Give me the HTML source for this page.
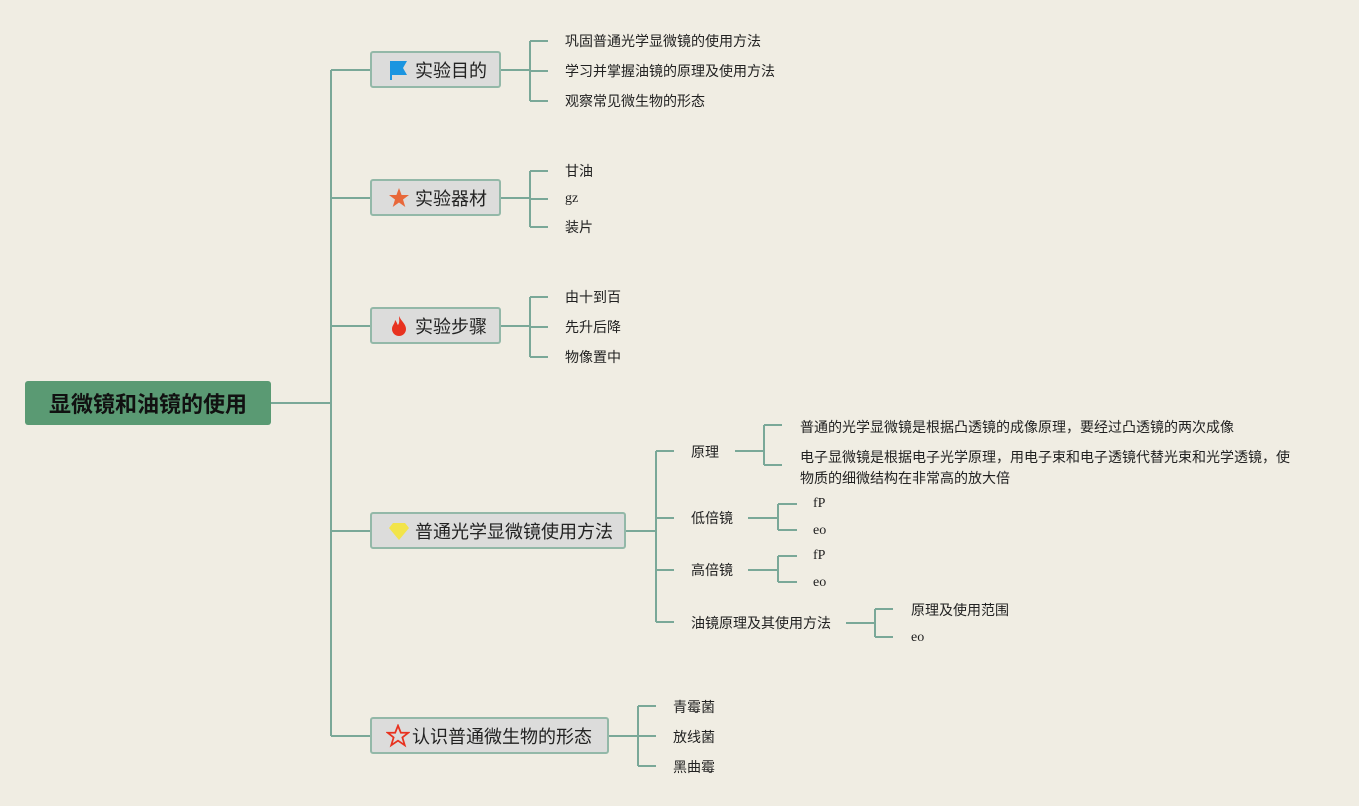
<!DOCTYPE html>
<html><head><meta charset="utf-8">
<style>
body{margin:0;width:1359px;height:806px;background:#f0ede3;position:relative;overflow:hidden;font-family:"Liberation Sans","Noto Sans CJK SC",sans-serif;}
.t{position:absolute;font-size:14px;color:#222;line-height:18px;white-space:nowrap;transform:translateY(-9px);}
.s{font-family:"Liberation Serif","Noto Serif CJK SC",serif;}
.n{position:absolute;box-sizing:border-box;height:37px;background:#dcdcdb;border:2px solid #93b8a8;border-radius:3px;font-size:18px;color:#222;display:flex;align-items:center;padding-left:16px;}
.n svg{margin-right:5px;}
.root{position:absolute;left:25px;top:381px;width:246px;height:44px;background:#5a9a73;border-radius:3px;color:#111;font-weight:bold;font-size:22px;display:flex;align-items:center;justify-content:center;}
</style></head><body>
<svg width="1359" height="806" style="position:absolute;left:0;top:0" fill="none" stroke="#7aa898" stroke-width="2">
<path d="M270 403H331M331 70V736M331 70H371M331 198H371M331 326H371M331 531H371M331 736H371"/>
<path d="M500 70H530M530 41V101M530 41H548M530 71H548M530 101H548"/>
<path d="M500 198H530M530 171V227M530 171H548M530 199H548M530 227H548"/>
<path d="M500 326H530M530 297V357M530 297H548M530 327H548M530 357H548"/>
<path d="M625 531H656M656 451V622M656 451H674M656 518H674M656 570H674M656 622H674"/>
<path d="M735 451H764M764 425V465M764 425H782M764 465H782"/>
<path d="M748 518H778M778 504V530M778 504H797M778 530H797"/>
<path d="M748 570H778M778 556V582M778 556H797M778 582H797"/>
<path d="M846 623H875M875 609V637M875 609H893M875 637H893"/>
<path d="M608 736H638M638 706V766M638 706H656M638 736H656M638 766H656"/>
</svg>
<div class="root">显微镜和油镜的使用</div>
<div class="n" style="left:370px;top:51px;width:131px"><svg width="22" height="22" viewBox="0 0 22 22"><path d="M2 2H19L15 9L19 16H4V21H2Z" fill="#1b95e0"/></svg>实验目的</div>
<div class="n" style="left:370px;top:179px;width:131px"><svg width="22" height="22" viewBox="0 0 22 22"><path d="M11 1L13.6 8H21L15 12.5L17.3 20L11 15.5L4.7 20L7 12.5L1 8H8.4Z" fill="#e8683a"/></svg>实验器材</div>
<div class="n" style="left:370px;top:307px;width:131px"><svg width="22" height="22" viewBox="0 0 22 22"><path d="M11 1C13 6 18 9 18 14A7 7 0 0 1 4 14C4 10 7 9 7 5C9 7 9 9 10 10C12 7 11 4 11 1Z" fill="#e8321f"/></svg>实验步骤</div>
<div class="n" style="left:370px;top:512px;width:256px"><svg width="22" height="22" viewBox="0 0 22 22"><path d="M5 3H17L21 8L11 20L1 8Z" fill="#f2e44a"/></svg>普通光学显微镜使用方法</div>
<div class="n" style="left:370px;top:717px;width:239px;padding-left:14px"><svg width="24" height="24" viewBox="0 0 22 22" style="margin-right:2px"><path d="M11 1.5L13.6 8H20.5L15 12.3L17.2 19.5L11 15.3L4.8 19.5L7 12.3L1.5 8H8.4Z" fill="none" stroke="#e8321f" stroke-width="1.6"/></svg>认识普通微生物的形态</div>
<div class="t" style="left:565px;top:41px">巩固普通光学显微镜的使用方法</div>
<div class="t" style="left:565px;top:71px">学习并掌握油镜的原理及使用方法</div>
<div class="t" style="left:565px;top:101px">观察常见微生物的形态</div>
<div class="t" style="left:565px;top:171px">甘油</div>
<div class="t s" style="left:565px;top:199px">gz</div>
<div class="t" style="left:565px;top:227px">装片</div>
<div class="t" style="left:565px;top:297px">由十到百</div>
<div class="t" style="left:565px;top:327px">先升后降</div>
<div class="t" style="left:565px;top:357px">物像置中</div>
<div class="t" style="left:691px;top:452px">原理</div>
<div class="t" style="left:691px;top:518px">低倍镜</div>
<div class="t" style="left:691px;top:570px">高倍镜</div>
<div class="t" style="left:691px;top:623px">油镜原理及其使用方法</div>
<div class="t" style="left:800px;top:427px">普通的光学显微镜是根据凸透镜的成像原理，要经过凸透镜的两次成像</div>
<div class="t" style="left:800px;top:467px;transform:translateY(-20px);line-height:21px">电子显微镜是根据电子光学原理，用电子束和电子透镜代替光束和光学透镜，使<br>物质的细微结构在非常高的放大倍</div>
<div class="t s" style="left:813px;top:504px">fP</div>
<div class="t s" style="left:813px;top:531px">eo</div>
<div class="t s" style="left:813px;top:556px">fP</div>
<div class="t s" style="left:813px;top:583px">eo</div>
<div class="t" style="left:911px;top:610px">原理及使用范围</div>
<div class="t s" style="left:911px;top:638px">eo</div>
<div class="t" style="left:673px;top:707px">青霉菌</div>
<div class="t" style="left:673px;top:737px">放线菌</div>
<div class="t" style="left:673px;top:767px">黑曲霉</div>
</body></html>
